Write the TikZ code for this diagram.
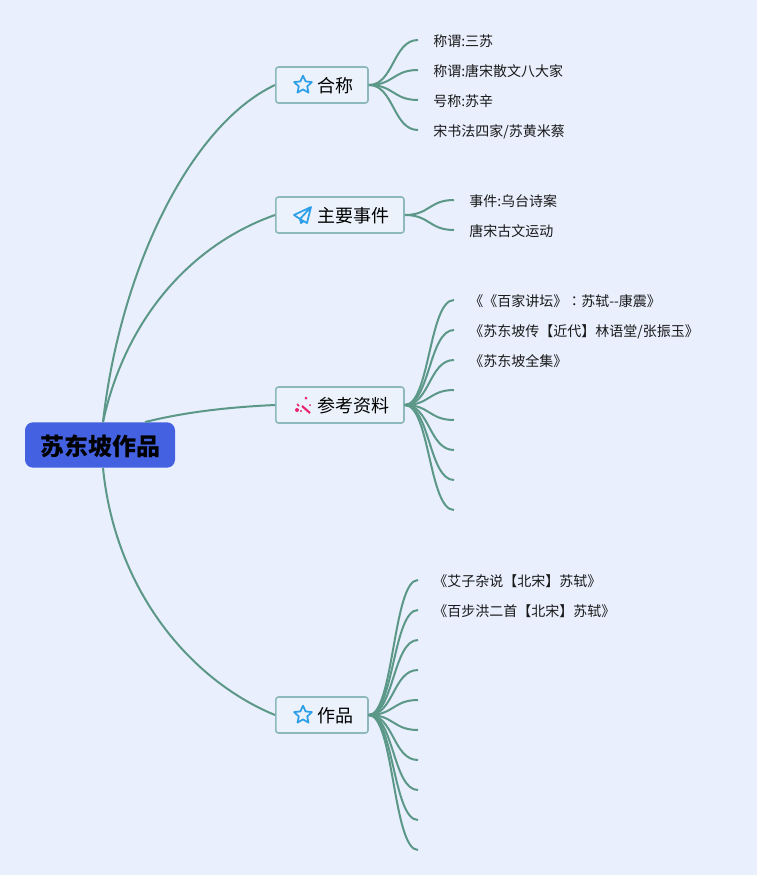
\documentclass[tikz,border=0pt]{standalone}
\usepackage{fontspec}
\setmainfont{Noto Sans CJK SC}
\newfontfamily\twfont{Noto Sans CJK TC}
\usetikzlibrary{shapes.geometric}

\definecolor{pagebg}{HTML}{E9EFFD}
\definecolor{rootblue}{HTML}{4361E0}
\definecolor{linegreen}{HTML}{5C9888}
\definecolor{boxline}{HTML}{8DB8BC}
\definecolor{boxfill}{HTML}{EBF2FB}
\definecolor{iconblue}{HTML}{2C9FE8}
\definecolor{iconpink}{HTML}{E8256E}

\tikzset{
    rootbox/.style={fill=rootblue, rounded corners=6, minimum width=112.5pt, minimum height=34pt, inner sep=0pt, text height=17.3pt, text depth=2.2pt, font=\fontsize{18}{20}\selectfont\bfseries, text=black},
    branchbox/.style={draw=boxline, fill=boxfill, line width=1.2pt, rounded corners=2, anchor=west, minimum height=27pt, inner xsep=10.65pt, inner ysep=0pt, text height=13.3pt, text depth=1.6pt, font=\fontsize{13.5}{16}\selectfont, text=black},
    leaf/.style={anchor=west, inner xsep=11.25pt, inner ysep=0pt, text height=11.4pt, text depth=1.3pt, font=\fontsize{10.5}{13}\selectfont, text=black!90},
    mainline/.style={draw=linegreen, line width=1.5pt},
    subline/.style={draw=linegreen, line width=1.5pt, to path={.. controls +(25,0) and +(-25,0) .. (\tikztotarget)}},
    staricon/.style={star, star points=5, star point ratio=2.1, draw=iconblue, line width=1.3pt, line join=round, minimum size=14pt, inner sep=0pt}
}

\begin{document}
\begin{tikzpicture}[x=0.75pt, y=-0.75pt]
    \useasboundingbox[fill=pagebg] (0, 0) rectangle (757, 875);

    \node[rootbox] (root) at (100, 445) {苏东坡作品};
    \node[branchbox] (names) at (275, 85) {\hspace*{20.85pt}合称};
    \node[branchbox] (events) at (275, 215) {\hspace*{20.85pt}主要事件};
    \node[branchbox] (refs) at (275, 405) {\hspace*{20.85pt}参考资料};
    \node[branchbox] (works) at (275, 715) {\hspace*{20.85pt}作品};

    \coordinate (rootup) at ([xshift=2.25pt]root.north);
    \coordinate (rootside) at ([xshift=33.75pt]root.north);
    \coordinate (rootdown) at ([xshift=2.25pt]root.south);

    \draw[mainline] (rootup) .. controls (120, 270) and (190, 125) .. (names.west);
    \draw[mainline] (rootup) .. controls (125, 320) and (190, 245) .. (events.west);
    \draw[mainline] (rootside) .. controls (185, 412) and (230, 407) .. (refs.west);
    \draw[mainline] (rootdown) .. controls (115, 590) and (190, 680) .. (works.west);

    \node[staricon] (namesicon) at ([xshift=21pt]names.west) {};
    \node[staricon] (worksicon) at ([xshift=21pt]works.west) {};

    \node[leaf] (name1) at (418, 40) {称谓:三苏};
    \node[leaf] (name2) at (418, 70) {称谓:唐宋散文八大家};
    \node[leaf] (name3) at (418, 100) {号称:苏辛};
    \node[leaf] (name4) at (418, 130) {宋书法四家/苏黄米蔡};
    \draw[subline] (names.east) to (name1.west);
    \draw[subline] (names.east) to (name2.west);
    \draw[subline] (names.east) to (name3.west);
    \draw[subline] (names.east) to (name4.west);

    \node[leaf] (event1) at (454, 200) {事件:乌台诗案};
    \node[leaf] (event2) at (454, 230) {唐宋古文运动};
    \draw[subline] (events.east) to (event1.west);
    \draw[subline] (events.east) to (event2.west);

    \node[leaf] (ref1) at (454, 300) {《《百家讲坛》{\twfont ：}苏轼{-}{-}康震》};
    \node[leaf] (ref2) at (454, 330) {《苏东坡传【近代】林语堂/张振玉》};
    \node[leaf] (ref3) at (454, 360) {《苏东坡全集》};
    \coordinate (ref4) at (454, 390);
    \coordinate (ref5) at (454, 420);
    \coordinate (ref6) at (454, 450);
    \coordinate (ref7) at (454, 480);
    \coordinate (ref8) at (454, 510);
    \draw[subline] (refs.east) to (ref1.west);
    \draw[subline] (refs.east) to (ref2.west);
    \draw[subline] (refs.east) to (ref3.west);
    \draw[subline] (refs.east) to (ref4);
    \draw[subline] (refs.east) to (ref5);
    \draw[subline] (refs.east) to (ref6);
    \draw[subline] (refs.east) to (ref7);
    \draw[subline] (refs.east) to (ref8);

    \node[leaf] (work1) at (418, 580) {《艾子杂说【北宋】苏轼》};
    \node[leaf] (work2) at (418, 610) {《百步洪二首【北宋】苏轼》};
    \coordinate (work3) at (418, 640);
    \coordinate (work4) at (418, 670);
    \coordinate (work5) at (418, 700);
    \coordinate (work6) at (418, 730);
    \coordinate (work7) at (418, 760);
    \coordinate (work8) at (418, 790);
    \coordinate (work9) at (418, 820);
    \coordinate (work10) at (418, 850);
    \draw[subline] (works.east) to (work1.west);
    \draw[subline] (works.east) to (work2.west);
    \draw[subline] (works.east) to (work3);
    \draw[subline] (works.east) to (work4);
    \draw[subline] (works.east) to (work5);
    \draw[subline] (works.east) to (work6);
    \draw[subline] (works.east) to (work7);
    \draw[subline] (works.east) to (work8);
    \draw[subline] (works.east) to (work9);
    \draw[subline] (works.east) to (work10);

    \draw[iconblue, line width=1.3pt, line join=round] (311, 207) -- (294, 215) -- (300, 219) -- (311, 207) -- (307, 223) -- (300, 219) -- (301, 223) -- (304, 221);
    \draw[iconpink, line width=1.6pt] (302, 406) -- (310, 413);
    \draw[iconpink, line width=1.3pt] (297, 404) -- (299, 406);
    \fill[iconpink] (297, 410) circle [radius=2];
    \fill[iconpink] (301, 411) circle [radius=1.2];
    \fill[iconpink] (306, 398) circle [radius=1.5];
    \fill[iconpink] (310, 405) circle [radius=1];
\end{tikzpicture}
\end{document}
